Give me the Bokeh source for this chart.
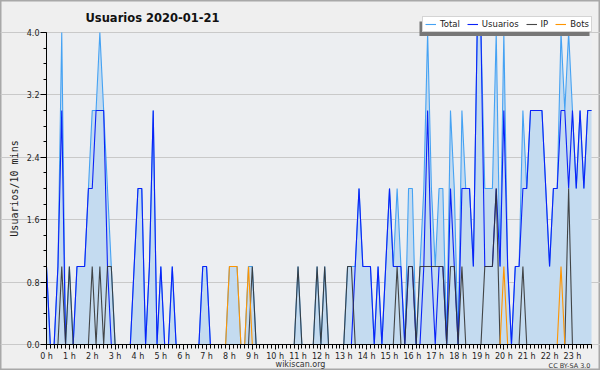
from bokeh.plotting import figure
from bokeh.models import (Range1d, FixedTicker, Legend, LegendItem, Label,
                          BoxAnnotation, ColumnDataSource, PrintfTickFormatter)
from bokeh.embed import file_html
from bokeh.resources import INLINE

# ---- data: 10-minute slots of 2020-01-21 (0..143) ----
slot_minutes = list(range(0, 1440, 10))

usuarios = [1, 0, 0, 1, 3, 0, 0, 0, 1, 1,
            1, 2, 2, 3, 3, 3, 1, 0, 0, 0,
            0, 0, 0, 1, 2, 2, 0, 1, 3, 0,
            1, 0, 0, 1, 0, 0, 0, 0, 0, 0,
            0, 1, 1, 0, 0, 0, 0, 0, 0, 0,
            0, 0, 0, 0, 0, 0, 0, 0, 0, 0,
            0, 0, 0, 0, 0, 0, 0, 0, 0, 0,
            0, 0, 0, 0, 0, 0, 0, 0, 0, 0,
            0, 1, 2, 1, 1, 1, 0, 1, 0, 1,
            2, 1, 1, 1, 0, 1, 1, 0, 0, 1,
            3, 1, 0, 1, 1, 0, 2, 1, 0, 2,
            2, 2, 1, 4, 4, 1, 1, 1, 2, 1,
            3, 1, 0, 1, 1, 2, 2, 3, 3, 3,
            3, 2, 1, 2, 2, 3, 3, 2, 3, 2,
            3, 2, 3, 3]

ip = [0, 0, 0, 0, 1, 0, 1, 0, 0, 0,
      0, 0, 1, 0, 1, 0, 1, 1, 0, 0,
      0, 0, 0, 0, 0, 0, 0, 0, 0, 0,
      0, 0, 0, 0, 0, 0, 0, 0, 0, 0,
      0, 0, 0, 0, 0, 0, 0, 0, 0, 0,
      0, 0, 0, 0, 1, 0, 0, 0, 0, 0,
      0, 0, 0, 0, 0, 0, 1, 0, 0, 0,
      0, 1, 0, 1, 0, 0, 0, 0, 0, 1,
      1, 0, 0, 0, 0, 0, 0, 0, 0, 0,
      0, 0, 1, 0, 0, 1, 1, 0, 1, 1,
      1, 1, 1, 1, 1, 0, 1, 1, 0, 1,
      0, 0, 0, 0, 0, 1, 1, 1, 2, 0,
      0, 0, 0, 0, 0, 1, 0, 0, 0, 0,
      0, 0, 0, 0, 0, 0, 0, 2, 0, 0,
      0, 0, 0, 0]

bots = [0, 0, 0, 0, 0, 0, 0, 0, 0, 0,
        0, 0, 0, 0, 0, 0, 0, 0, 0, 0,
        0, 0, 0, 0, 0, 0, 0, 0, 0, 0,
        0, 0, 0, 0, 0, 0, 0, 0, 0, 0,
        0, 0, 0, 0, 0, 0, 0, 0, 1, 1,
        1, 0, 0, 1, 0, 0, 0, 0, 0, 0,
        0, 0, 0, 0, 0, 0, 0, 0, 0, 0,
        0, 0, 0, 0, 0, 0, 0, 0, 0, 0,
        0, 0, 0, 0, 0, 0, 0, 0, 0, 0,
        0, 0, 0, 0, 0, 0, 0, 0, 0, 0,
        0, 0, 0, 0, 0, 0, 0, 0, 0, 0,
        0, 0, 0, 0, 0, 0, 0, 0, 0, 0,
        1, 0, 0, 0, 0, 0, 0, 0, 0, 0,
        0, 0, 0, 0, 0, 1, 0, 0, 0, 0,
        0, 0, 0, 0]

total = [1, 0, 0, 1, 4, 0, 1, 0, 1, 1,
         1, 2, 3, 3, 4, 3, 2, 1, 0, 0,
         0, 0, 0, 1, 2, 2, 0, 1, 3, 0,
         1, 0, 0, 1, 0, 0, 0, 0, 0, 0,
         0, 1, 1, 0, 0, 0, 0, 0, 1, 1,
         1, 0, 0, 1, 1, 0, 0, 0, 0, 0,
         0, 0, 0, 0, 0, 0, 1, 0, 0, 0,
         0, 1, 0, 1, 0, 0, 0, 0, 0, 1,
         1, 1, 2, 1, 1, 1, 0, 1, 0, 1,
         2, 1, 2, 1, 0, 2, 2, 0, 1, 2,
         4, 2, 1, 2, 2, 0, 3, 2, 0, 3,
         2, 2, 1, 4, 4, 2, 2, 2, 4, 1,
         4, 1, 0, 1, 1, 3, 2, 3, 3, 3,
         3, 2, 1, 2, 2, 4, 3, 4, 3, 2,
         3, 2, 3, 3]

hour_ticks = list(range(24))
hour_labels = ["0 h", "1 h", "2 h", "3 h", "4 h", "5 h", "6 h", "7 h", "8 h",
               "9 h", "10 h", "11 h", "12 h", "13 h", "14 h", "15 h", "16 h",
               "17 h", "18 h", "19 h", "20 h", "21 h", "22 h", "23 h"]
y_ticks = [0.0, 0.8, 1.6, 2.4, 3.2, 4.0]
y_max = 4.0

hours = [m / 60 for m in slot_minutes]
src = ColumnDataSource(dict(t=hours, total=total, usuarios=usuarios, ip=ip, bots=bots))

FONT = "DejaVu Sans"
W, H = 600, 370
PLOT_L, PLOT_R = 46, 591            # pixel columns of first / last slot
AX_Y, TOP_Y = 344, 32               # pixel rows of y=0 and y=4
PX_PER_UNIT = (AX_Y - TOP_Y) / y_max
PX_PER_HOUR = (PLOT_R - PLOT_L) / hours[-1]

# the frame covers the whole canvas; axes are pinned at x=0 / y=0
p = figure(width=W, height=H, output_backend="svg", toolbar_location=None,
           x_range=Range1d(-PLOT_L / PX_PER_HOUR, hours[-1] + (W - PLOT_R) / PX_PER_HOUR),
           y_range=Range1d(-(H - AX_Y) / PX_PER_UNIT, AX_Y / PX_PER_UNIT),
           min_border_left=0, min_border_right=0,
           min_border_top=0, min_border_bottom=0)
p.border_fill_color = "#efefef"
p.background_fill_color = "#efefef"
p.outline_line_color = "#a8a8a8"
p.outline_line_width = 2

# plot-area background
p.add_layout(BoxAnnotation(left=hours[0], right=hours[-1], bottom=0, top=y_max,
                           fill_color="#eceef1", fill_alpha=1,
                           line_alpha=0, level="image"))

# grids
p.xgrid.visible = False
p.ygrid.grid_line_color = "#c9c9c9"
p.ygrid.grid_line_width = 1
p.ygrid.bounds = (hours[0], hours[-1])

# y axis
ya = p.yaxis[0]
ya.fixed_location = hours[0]
ya.bounds = (0, y_max)
ya.ticker = FixedTicker(ticks=y_ticks, minor_ticks=[k * 0.2 for k in range(21)])
ya.formatter = PrintfTickFormatter(format="%.1f")
ya.axis_label = "Usuarios/10 mins"
ya.axis_label_text_font = "DejaVu Sans Mono"
ya.axis_label_text_font_size = "10px"
ya.axis_label_text_font_style = "normal"
ya.axis_label_text_color = "#222222"
ya.axis_label_standoff = 4
ya.major_label_text_font = FONT
ya.major_label_text_font_size = "8px"
ya.major_label_text_color = "#222222"
ya.major_label_standoff = 1
ya.major_tick_out = 6
ya.major_tick_in = 0
ya.minor_tick_out = 3
ya.minor_tick_in = 0
ya.axis_line_color = "#000000"
ya.major_tick_line_color = "#000000"
ya.minor_tick_line_color = "#000000"

# x axis
xa = p.xaxis[0]
xa.fixed_location = 0
xa.bounds = (hours[0], hours[-1])
xa.ticker = FixedTicker(ticks=hour_ticks, minor_ticks=hours)
xa.major_label_overrides = {h: lab for h, lab in zip(hour_ticks, hour_labels)}
xa.major_label_text_font = FONT
xa.major_label_text_font_size = "8px"
xa.major_label_text_color = "#222222"
xa.major_label_standoff = 2
xa.major_tick_out = 5
xa.major_tick_in = 0
xa.minor_tick_out = 4
xa.minor_tick_in = 0
xa.axis_line_color = "#000000"
xa.major_tick_line_color = "#000000"
xa.minor_tick_line_color = "#000000"

# series
p.varea(x="t", y1=0, y2="total", source=src, fill_color="#c4dbf0", fill_alpha=1)
r_total = p.line("t", "total", source=src, line_color="#45a2f3", line_width=1.1)
r_us = p.line("t", "usuarios", source=src, line_color="#0a22f8", line_width=1.1)
r_ip = p.line("t", "ip", source=src, line_color="#333333", line_width=1.1, line_alpha=0.9)
r_bots = p.line("t", "bots", source=src, line_color="#ff9500", line_width=1.1)

# title (screen units: from canvas left / canvas bottom)
p.add_layout(Label(x=85, y=H - 17, x_units="screen", y_units="screen",
                   text="Usuarios  2020-01-21", text_align="left", text_baseline="middle",
                   text_font=FONT, text_font_size="11.5px", text_font_style="bold",
                   text_color="#111111"))

# legend with shadow
p.add_layout(BoxAnnotation(left=419, right=589, bottom=H - 35.5, top=H - 21,
                           left_units="screen", right_units="screen",
                           top_units="screen", bottom_units="screen",
                           fill_color="#777777", fill_alpha=1, line_alpha=0))
legend = Legend(items=[LegendItem(label="Total", renderers=[r_total]),
                       LegendItem(label="Usuarios", renderers=[r_us]),
                       LegendItem(label="IP", renderers=[r_ip]),
                       LegendItem(label="Bots", renderers=[r_bots])],
                orientation="horizontal", location=(422, H - 32),
                background_fill_color="#ffffff", background_fill_alpha=1,
                border_line_color="#aaaaaa", border_line_width=1,
                label_text_font=FONT, label_text_font_size="8.5px",
                label_text_color="#222222",
                glyph_width=11, glyph_height=8, label_height=8, label_width=0,
                label_standoff=4, spacing=7, padding=2, margin=0)
p.add_layout(legend)

# footer texts
p.add_layout(Label(x=300, y=H - 364, x_units="screen", y_units="screen",
                   text="wikiscan.org", text_align="center", text_baseline="middle",
                   text_font=FONT, text_font_size="8px", text_color="#333333"))
p.add_layout(Label(x=590, y=H - 365, x_units="screen", y_units="screen",
                   text="CC BY-SA 3.0", text_align="right", text_baseline="middle",
                   text_font=FONT, text_font_size="6.5px", text_color="#333333"))

open("out.html", "w").write(file_html(p, INLINE))
